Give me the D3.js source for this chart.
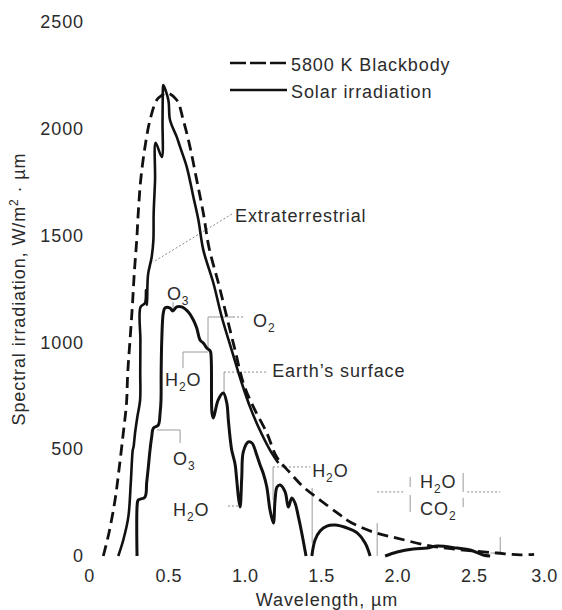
<!DOCTYPE html>
<html><head><meta charset="utf-8">
<script src="https://cdn.jsdelivr.net/npm/d3@7"></script>
<style>
body{margin:0;background:#fff}
svg{display:block}
text{font-family:"Liberation Sans",Arial,sans-serif;fill:#2b2b2b;letter-spacing:0.9px}
</style>
</head><body>
<svg id="c" width="562" height="610"></svg>
<script>
// ---------- data ----------
const xTicks = [0, 0.5, 1.0, 1.5, 2.0, 2.5, 3.0];
const yTicks = [0, 500, 1000, 1500, 2000, 2500];

// 5800 K blackbody (dashed)
const bbWl  = [0.074,0.111,0.151,0.179,0.205,0.226,0.234,0.249,0.264,0.277,0.293,0.303,0.319,0.347,0.380,0.424,0.459,0.491,0.555,0.598,0.642,0.686,0.729,0.767,0.828,0.883,0.937,0.991,1.057,1.145,1.210,1.298,1.385,1.494,1.625,1.691,1.843,1.997,2.215,2.433,2.652,2.805,2.896];
const bbVal = [0,108,262,417,576,716,857,1011,1166,1325,1479,1606,1760,1915,2041,2135,2158,2168,2135,2041,1915,1760,1606,1442,1278,1119,964,810,698,576,463,389,323,262,192,159,112,84,47,28,14,5,8];

// Extraterrestrial solar irradiation (solid)
const extWl  = [0.172,0.205,0.238,0.254,0.267,0.272,0.282,0.297,0.315,0.316,0.317,0.318,0.347,0.354,0.360,0.367,0.391,0.402,0.404,0.413,0.417,0.457,0.462,0.465,0.467,0.500,0.511,0.555,0.577,0.621,0.664,0.697,0.729,0.795,0.850,0.915,0.981,1.035,1.090,1.166,1.221];
const extVal = [0,75,183,342,496,510,576,651,730,857,1011,1166,1184,1245,1175,1316,1400,1479,1606,1760,1934,1868,2041,2196,2205,2135,2041,1962,1915,1821,1681,1573,1433,1278,1119,964,810,698,604,496,435];

// Solar irradiation at Earth's surface (solid), null = gap
const earthWl  = [0.295,0.297,0.303,0.347,0.358,0.369,0.380,0.391,0.402,0.434,0.446,0.452,0.453,0.457,0.467,0.478,0.511,0.529,0.555,0.588,0.631,0.664,0.686,0.708,0.729,0.752,0.769,0.777,0.786,0.795,0.826,0.860,0.883,0.893,0.904,0.915,0.937,0.948,0.959,0.970,0.981,0.991,1.024,1.048,1.079,1.101,1.123,1.145,1.166,1.188,1.199,1.212,1.232,1.265,1.286,1.309,1.330,1.352,1.374,1.402,
  1.420,
  1.440,1.461,1.494,1.538,1.592,1.671,1.737,1.789,1.822,
  1.870,
  1.920,1.999,2.104,2.195,2.261,2.392,2.477,2.562,2.608];
const earthVal = [0,248,262,276,342,417,496,557,599,613,669,730,857,1011,1138,1161,1161,1147,1166,1166,1142,1105,1067,1011,997,974,964,955,669,646,730,763,716,637,557,496,431,356,276,229,370,487,534,529,473,426,384,323,215,154,262,323,332,300,229,272,248,183,108,0,
  null,
  0,75,117,140,145,131,108,61,0,
  null,
  0,19,33,37,47,37,28,5,0];

// ---------- scales ----------
const x = d3.scaleLinear().domain([0, 3]).range([92, 550]);
const y = d3.scaleLinear().domain([0, 2500]).range([556, 22]);

const svg = d3.select("#c");
const FS = 18;

// ---------- axes (labels only) ----------
const xAxis = svg.append("g").attr("transform", "translate(0,566)")
  .call(d3.axisBottom(x).tickValues(xTicks).tickSize(0).tickPadding(3)
    .tickFormat(d => d === 0 ? "0" : d3.format(".1f")(d)));
const yAxis = svg.append("g").attr("transform", "translate(87,0)")
  .call(d3.axisLeft(y).tickValues(yTicks).tickSize(0).tickPadding(3)
    .tickFormat(d3.format("d")));
[xAxis, yAxis].forEach(g => {
  g.select(".domain").remove();
  g.attr("font-family", null).attr("font-size", null);
  g.selectAll("text").attr("font-size", FS).attr("fill", "#2b2b2b");
});
// small nudges of the end labels, as in the reference
xAxis.selectAll(".tick text").attr("dx", d => d === 0 ? -3 : d === 3 ? -6 : 0)
  .style("letter-spacing", "0.5px");

// ---------- leaders ----------
const solidLeaders = [
  [[0.760,964],[0.760,1119],[0.924,1119]],
  [[0.596,880],[0.596,955],[0.760,955]],
  [[0.865,763],[0.865,861]],
  [[0.426,590],[0.577,590],[0.577,529]],
  [[0.531,1189],[0.531,1156]],
  [[1.186,262],[1.186,417]],
  [[1.442,61],[1.442,318]],
  [[1.868,0],[1.868,154]],
  [[2.084,323],[2.084,370]],
  [[2.084,206],[2.084,286]],
  [[2.431,300],[2.431,389]],
  [[2.431,229],[2.431,272]],
  [[2.610,14],[2.674,14],[2.674,89]]
];
const dottedLeaders = [
  [[0.917,1601],[0.400,1376]],
  [[0.924,1119],[1.003,1119]],
  [[0.865,861],[1.153,861]],
  [[0.891,234],[0.970,234]],
  [[1.186,417],[1.429,417]],
  [[1.868,300],[2.051,300]],
  [[2.457,300],[2.674,300]]
];
const lg = d3.line().x(d => x(d[0])).y(d => y(d[1]));
svg.append("g").selectAll("path").data(solidLeaders).join("path")
  .attr("d", lg).attr("fill", "none").attr("stroke", "#9a9a9a").attr("stroke-width", 1);
svg.append("g").selectAll("path").data(dottedLeaders).join("path")
  .attr("d", lg).attr("fill", "none").attr("stroke", "#8a8a8a").attr("stroke-width", 1)
  .attr("stroke-dasharray", "2,2");

// ---------- curves ----------
const curve = d3.curveCatmullRom.alpha(0.5);
const mk = (wl, val) => wl.map((w, i) => [w, val[i]]);
const line = d3.line().defined(d => d[1] !== null)
  .x(d => x(d[0])).y(d => y(d[1])).curve(curve);

svg.append("path").attr("d", line(mk(bbWl, bbVal)))
  .attr("fill", "none").attr("stroke", "#111").attr("stroke-width", 2.8)
  .attr("stroke-dasharray", "11,6");
svg.append("path").attr("d", line(mk(extWl, extVal)))
  .attr("fill", "none").attr("stroke", "#111").attr("stroke-width", 2.6)
  .attr("stroke-linejoin", "round");
svg.append("path").attr("d", line(mk(earthWl, earthVal)))
  .attr("fill", "none").attr("stroke", "#111").attr("stroke-width", 3)
  .attr("stroke-linejoin", "round");

// ---------- labels ----------
const labels = [
  {t:"Extraterrestrial", w:0.937, v:1564},
  {t:"O", sub:"3", w:0.491, v:1199},
  {t:"O", sub:"2", w:1.055, v:1072},
  {t:"H", sub:"2", after:"O", w:0.478, v:796},
  {t:"Earth’s surface", w:1.180, v:838},
  {t:"O", sub:"3", w:0.531, v:426},
  {t:"H", sub:"2", after:"O", w:0.531, v:187},
  {t:"H", sub:"2", after:"O", w:1.442, v:370},
  {t:"H", sub:"2", after:"O", w:2.149, v:318},
  {t:"CO", sub:"2", w:2.149, v:192}
];
labels.forEach(l => {
  const t = svg.append("text").attr("x", x(l.w)).attr("y", y(l.v)).attr("font-size", FS);
  t.append("tspan").text(l.t);
  if (l.sub) t.append("tspan").attr("font-size", 12).attr("dy", 5).text(l.sub);
  if (l.after) t.append("tspan").attr("dy", -5).text(l.after);
});

// ---------- legend ----------
const leg = svg.append("g");
leg.append("line").attr("x1", 230).attr("x2", 287).attr("y1", 63).attr("y2", 63)
  .attr("stroke", "#111").attr("stroke-width", 2.5).attr("stroke-dasharray", "16,4");
leg.append("text").attr("x", 291).attr("y", 71).attr("font-size", FS).text("5800 K Blackbody");
leg.append("line").attr("x1", 230).attr("x2", 287).attr("y1", 90).attr("y2", 90)
  .attr("stroke", "#111").attr("stroke-width", 2.5);
leg.append("text").attr("x", 291).attr("y", 98).attr("font-size", FS).text("Solar irradiation");

// ---------- axis titles ----------
svg.append("text").attr("x", 327).attr("y", 606).attr("text-anchor", "middle")
  .attr("font-size", FS).text("Wavelength, µm");
const yt = svg.append("text").attr("transform", "translate(25,289) rotate(-90)")
  .attr("text-anchor", "middle").attr("font-size", FS);
yt.append("tspan").text("Spectral irradiation, W/m");
yt.append("tspan").attr("font-size", 12).attr("dy", -7).text("2");
yt.append("tspan").attr("dy", 7).text(" · µm");
</script>
</body></html>
